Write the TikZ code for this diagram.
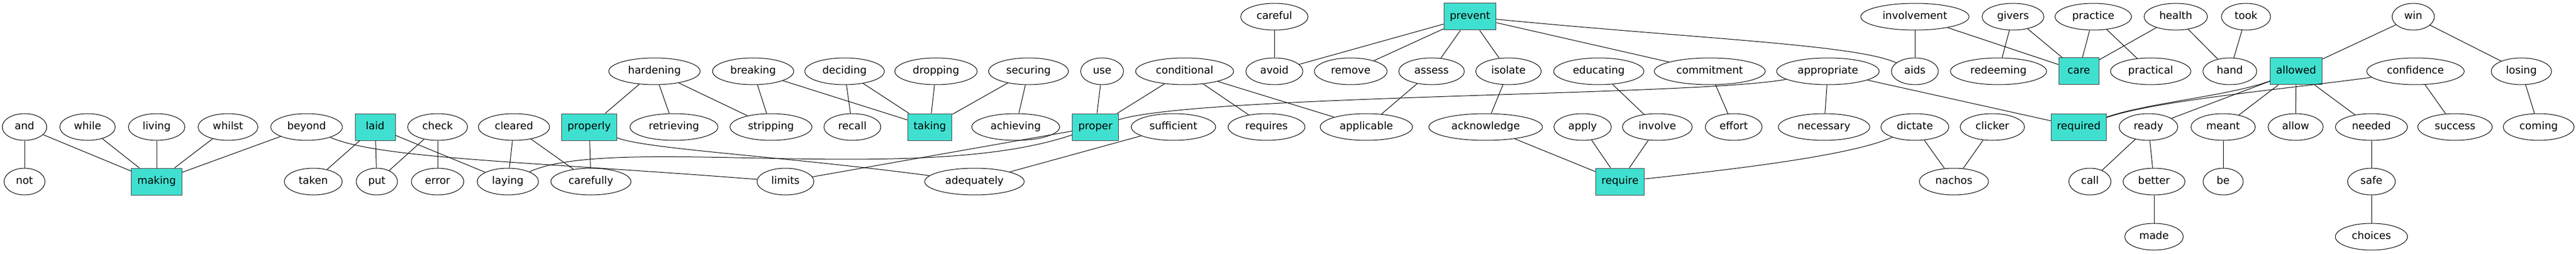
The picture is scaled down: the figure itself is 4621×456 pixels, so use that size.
\documentclass[tikz,border=0pt]{standalone}
\usepackage{fontspec}
\setmainfont{DejaVu Sans}
\usetikzlibrary{shapes.geometric}
\definecolor{keyfill}{HTML}{40E0D0}

\begin{document}
\begin{tikzpicture}[x=0.75pt, y=-0.75pt, line width=0.75pt,
    word/.style={ellipse, draw, font=\fontsize{14}{16}\selectfont, inner xsep=8pt,
      minimum width=54pt, minimum height=36pt, text height=10pt, text depth=3pt},
    keyword/.style={rectangle, draw=black!75, fill=keyfill, font=\fontsize{14}{16}\selectfont,
      inner xsep=8pt, minimum width=54pt, minimum height=36pt, text height=10pt, text depth=3pt}]
    \useasboundingbox (0, 0) rectangle (4621, 456);
    % top row
    \node[word] (careful) at (2286, 30) {careful};
    \node[keyword] (prevent) at (2637, 30) {prevent};
    \node[word] (involvement) at (3435, 30) {involvement};
    \node[word] (givers) at (3611, 30) {givers};
    \node[word] (practice) at (3755, 30) {practice};
    \node[word] (health) at (3903, 30) {health};
    \node[word] (took) at (4029, 30) {took};
    \node[word] (win) at (4329, 30) {win};
    % second row
    \node[word] (hardening) at (1174, 128) {hardening};
    \node[word] (breaking) at (1351, 128) {breaking};
    \node[word] (deciding) at (1515, 128) {deciding};
    \node[word] (dropping) at (1679, 128) {dropping};
    \node[word] (securing) at (1845, 128) {securing};
    \node[word] (use) at (1977, 128) {use};
    \node[word] (conditional) at (2125, 128) {conditional};
    \node[word] (avoid) at (2286, 128) {avoid};
    \node[word] (remove) at (2423, 128) {remove};
    \node[word] (assess) at (2568, 128) {assess};
    \node[word] (isolate) at (2706, 128) {isolate};
    \node[word] (educating) at (2868, 128) {educating};
    \node[word] (commitment) at (3067, 128) {commitment};
    \node[word] (appropriate) at (3279, 128) {appropriate};
    \node[word] (aids) at (3435, 128) {aids};
    \node[word] (redeeming) at (3585, 128) {redeeming};
    \node[keyword] (care) at (3729, 128) {care};
    \node[word] (practical) at (3858, 128) {practical};
    \node[word] (hand) at (4000, 128) {hand};
    \node[keyword] (allowed) at (4119, 128) {allowed};
    \node[word] (confidence) at (4333, 128) {confidence};
    \node[word] (losing) at (4523, 128) {losing};
    % third row
    \node[word] (and) at (44, 228) {and};
    \node[word] (while) at (157, 228) {while};
    \node[word] (living) at (281, 228) {living};
    \node[word] (whilst) at (409, 228) {whilst};
    \node[word] (beyond) at (550, 228) {beyond};
    \node[keyword] (laid) at (673, 228) {laid};
    \node[word] (check) at (785, 228) {check};
    \node[word] (cleared) at (922, 228) {cleared};
    \node[keyword] (properly) at (1057, 228) {properly};
    \node[word] (retrieving) at (1209, 228) {retrieving};
    \node[word] (stripping) at (1383, 228) {stripping};
    \node[word] (recall) at (1529, 228) {recall};
    \node[keyword] (taking) at (1668, 228) {taking};
    \node[word] (achieving) at (1822, 228) {achieving};
    \node[keyword] (proper) at (1965, 228) {proper};
    \node[word] (sufficient) at (2105, 228) {sufficient};
    \node[word] (requires) at (2272, 228) {requires};
    \node[word] (applicable) at (2451, 228) {applicable};
    \node[word] (acknowledge) at (2665, 228) {acknowledge};
    \node[word] (apply) at (2839, 228) {apply};
    \node[word] (involve) at (2973, 228) {involve};
    \node[word] (effort) at (3110, 228) {effort};
    \node[word] (necessary) at (3272, 228) {necessary};
    \node[word] (dictate) at (3435, 228) {dictate};
    \node[word] (clicker) at (3574, 228) {clicker};
    \node[keyword] (required) at (3729, 228) {required};
    \node[word] (ready) at (3854, 228) {ready};
    \node[word] (meant) at (3988, 228) {meant};
    \node[word] (allow) at (4118, 228) {allow};
    \node[word] (needed) at (4254, 228) {needed};
    \node[word] (success) at (4404, 228) {success};
    \node[word] (coming) at (4554, 228) {coming};
    % fourth row
    \node[word] (not) at (44, 326) {not};
    \node[keyword] (making) at (281, 326) {making};
    \node[word] (taken) at (562, 326) {taken};
    \node[word] (put) at (676, 326) {put};
    \node[word] (error) at (785, 326) {error};
    \node[word] (laying) at (911, 326) {laying};
    \node[word] (carefully) at (1060, 326) {carefully};
    \node[word] (limits) at (1409, 326) {limits};
    \node[word] (adequately) at (1748, 326) {adequately};
    \node[keyword] (require) at (2906, 326) {require};
    \node[word] (nachos) at (3505, 326) {nachos};
    \node[word] (call) at (3749, 326) {call};
    \node[word] (better) at (3864, 326) {better};
    \node[word] (be) at (3988, 326) {be};
    \node[word] (safe) at (4254, 326) {safe};
    % bottom row
    \node[word] (made) at (3864, 425) {made};
    \node[word] (choices) at (4254, 425) {choices};

    % links
    \draw (and) -- (not);
    \draw (and) -- (making);
    \draw (while) -- (making);
    \draw (living) -- (making);
    \draw (whilst) -- (making);
    \draw (beyond) -- (making);
    \draw (beyond) .. controls (680, 285) and (950, 290) .. (limits);
    \draw (laid) -- (taken);
    \draw (laid) -- (put);
    \draw (laid) -- (laying);
    \draw (check) -- (put);
    \draw (check) -- (error);
    \draw (cleared) -- (laying);
    \draw (cleared) -- (carefully);
    \draw (hardening) -- (properly);
    \draw (hardening) -- (retrieving);
    \draw (hardening) -- (stripping);
    \draw (properly) -- (carefully);
    \draw (properly) .. controls (1160, 268) and (1400, 280) .. (adequately);
    \draw (laying) .. controls (1100, 240) and (1650, 335) .. (proper);
    \draw (limits) -- (proper);
    \draw (breaking) -- (stripping);
    \draw (breaking) -- (taking);
    \draw (deciding) -- (recall);
    \draw (deciding) -- (taking);
    \draw (dropping) -- (taking);
    \draw (securing) -- (taking);
    \draw (securing) -- (achieving);
    \draw (use) -- (proper);
    \draw (conditional) -- (proper);
    \draw (conditional) -- (requires);
    \draw (conditional) -- (applicable);
    \draw (proper) .. controls (2150, 170) and (3050, 172) .. (appropriate);
    \draw (sufficient) -- (adequately);
    \draw (careful) -- (avoid);
    \draw (prevent) -- (avoid);
    \draw (prevent) -- (remove);
    \draw (prevent) -- (assess);
    \draw (prevent) -- (isolate);
    \draw (prevent) -- (commitment);
    \draw (prevent) .. controls (3050, 70) and (3330, 80) .. (aids);
    \draw (assess) -- (applicable);
    \draw (isolate) -- (acknowledge);
    \draw (educating) -- (involve);
    \draw (commitment) -- (effort);
    \draw (appropriate) -- (necessary);
    \draw (appropriate) -- (required);
    \draw (acknowledge) -- (require);
    \draw (apply) -- (require);
    \draw (involve) -- (require);
    \draw (dictate) .. controls (3320, 280) and (3100, 305) .. (require);
    \draw (dictate) -- (nachos);
    \draw (clicker) -- (nachos);
    \draw (involvement) -- (aids);
    \draw (involvement) -- (care);
    \draw (givers) -- (redeeming);
    \draw (givers) -- (care);
    \draw (practice) -- (care);
    \draw (practice) -- (practical);
    \draw (health) -- (care);
    \draw (health) -- (hand);
    \draw (took) -- (hand);
    \draw (win) -- (allowed);
    \draw (win) -- (losing);
    \draw (allowed) .. controls (4000, 172) and (3850, 185) .. (required);
    \draw (allowed) -- (ready);
    \draw (allowed) -- (meant);
    \draw (allowed) -- (allow);
    \draw (allowed) -- (needed);
    \draw (confidence) .. controls (4100, 160) and (3870, 180) .. (required);
    \draw (confidence) -- (success);
    \draw (losing) -- (coming);
    \draw (ready) -- (call);
    \draw (ready) -- (better);
    \draw (better) -- (made);
    \draw (meant) -- (be);
    \draw (needed) -- (safe);
    \draw (safe) -- (choices);
\end{tikzpicture}
\end{document}
